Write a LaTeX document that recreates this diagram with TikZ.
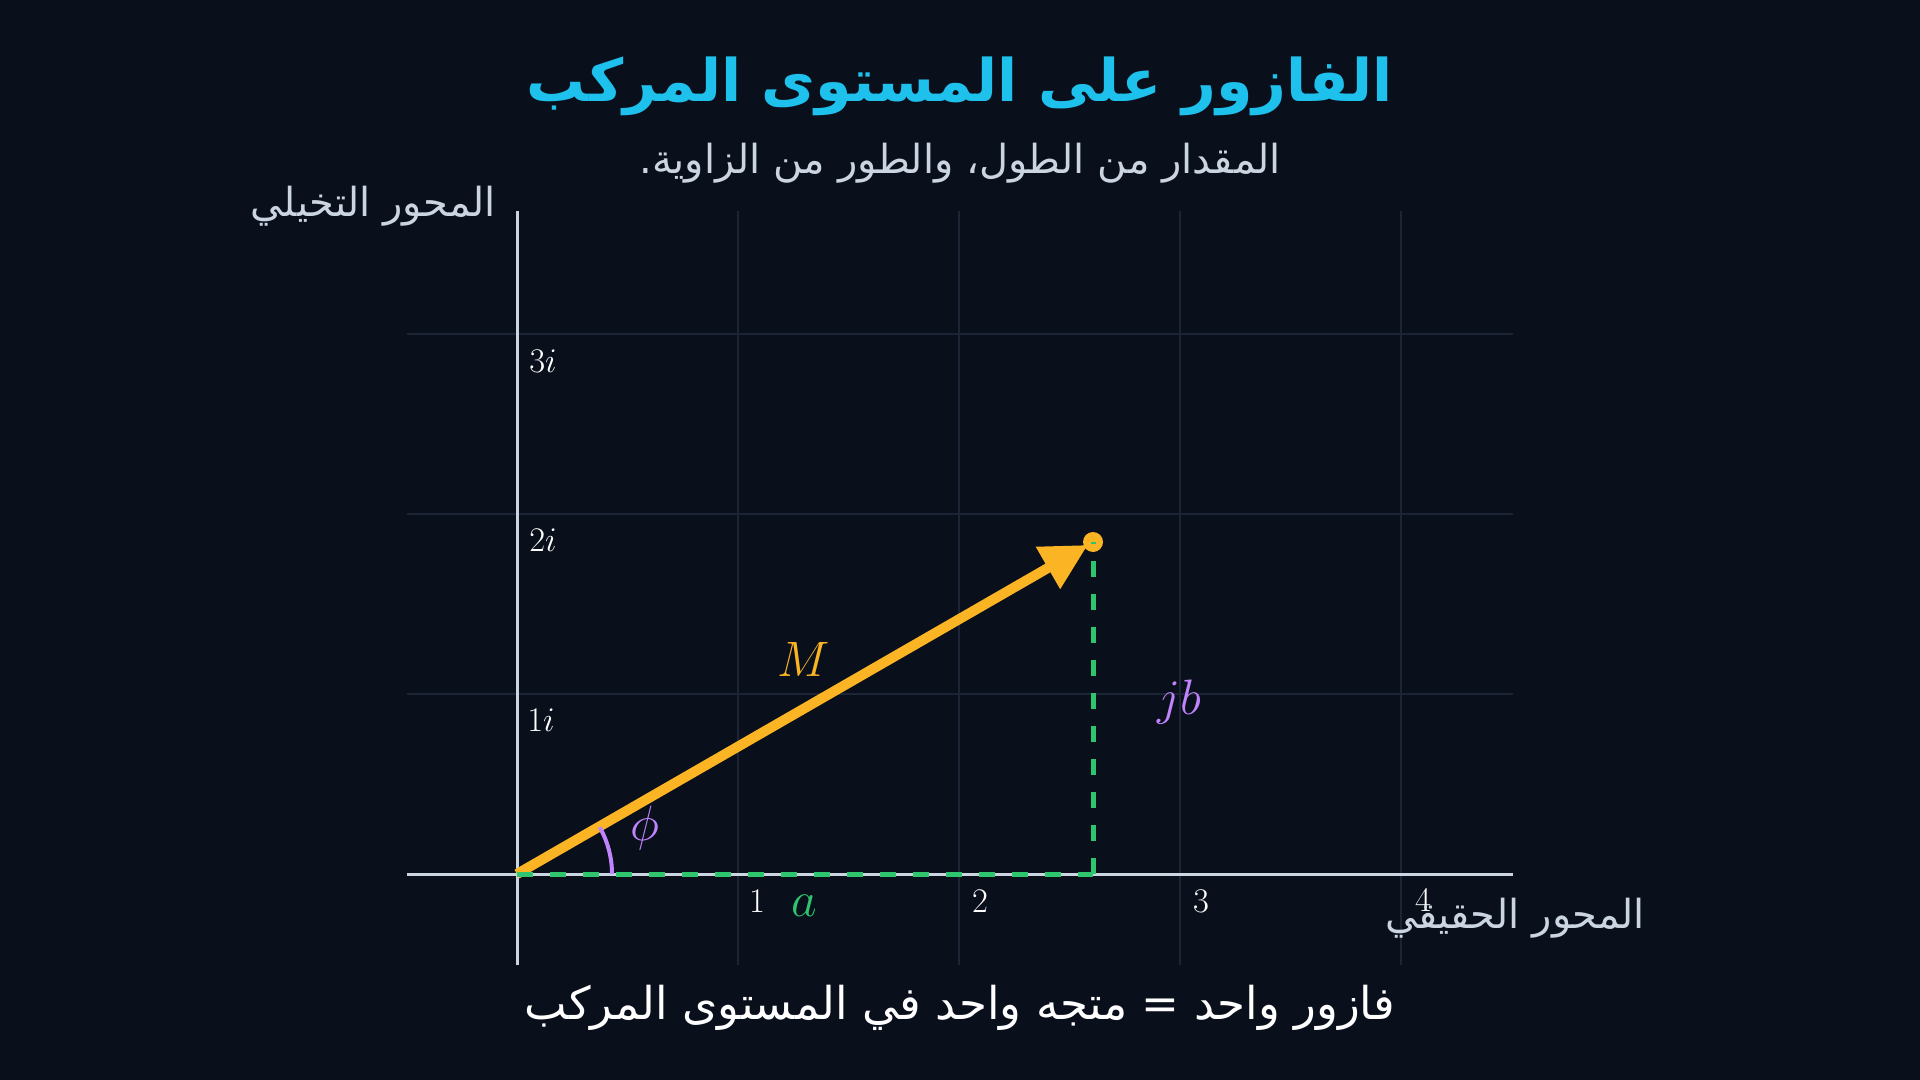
\documentclass[tikz,border=0pt]{standalone}
\usepackage{fontspec}
\usepackage{graphicx}
\usetikzlibrary{arrows.meta,calc}
\newfontfamily\arabicfont[Script=Arabic]{DejaVu Sans}
\TeXXeTstate=1
\definecolor{bg}{HTML}{0A0F1C}
\definecolor{titlec}{HTML}{1EC0EC}
\definecolor{softc}{HTML}{CBD5E1}
\definecolor{gridc}{HTML}{1C2536}
\definecolor{orangec}{HTML}{FBB424}
\definecolor{greenc}{HTML}{2FC46E}
\definecolor{purplec}{HTML}{C084FC}
\tikzset{
  gridline/.style={draw=gridc, line width=0.8pt},
  axisline/.style={draw=softc, line width=1.5pt},
  ticklab/.style={text=white, font=\fontsize{17}{17}\selectfont, inner sep=0pt},
  mathlab/.style={font=\fontsize{30}{30}\selectfont, inner sep=0pt},
  artext/.style={inner sep=0pt, text=softc},
  legdash/.style={draw=greenc, line width=2.5pt, dash pattern=on 8pt off 8.5pt},
}
\begin{document}
\begin{tikzpicture}[x=0.5pt,y=-0.5pt]
\fill[bg] (0,0) rectangle (1920,1080);
\useasboundingbox (0,0) rectangle (1920,1080);
% grid
\foreach \gx in {738,959,1180,1401} \draw[gridline] (\gx,211) -- (\gx,965);
\foreach \gy in {694,514,334} \draw[gridline] (407,\gy) -- (1513,\gy);
% axes
\coordinate (xl) at (407,874);
\coordinate (xr) at (1513,874);
\coordinate (yb) at (517,965);
\coordinate (yt) at (517,211);
\draw[axisline] (xl) -- (xr);
\draw[axisline] (yb) -- (yt);
% tick labels
\node[ticklab] (t1) at (757,901) {$1$};
\node[ticklab] (t2) at (980,901) {$2$};
\node[ticklab] (t3) at (1201,901) {$3$};
\node[ticklab] (t4) at (1423,900) {$4$};
\node[ticklab] (i3) at (543,361) {$3i$};
\node[ticklab] (i2) at (543,540) {$2i$};
\node[ticklab] (i1) at (541,720) {$1i$};
% key points
\coordinate (O) at (517,874);
\coordinate (P) at (1093,542);
\coordinate (F) at (1093,874);
% phasor
\draw[draw=orangec, line width=5pt, -{Triangle[length=23pt,width=23pt]}, shorten >=3pt] (O) -- (P);
\fill[orangec] (P) circle[radius=5pt];
% angle arc
\draw[draw=purplec, line width=2pt] ($(O)+(95,0)$) arc[start angle=0, end angle=-29.5, radius=95];
% green legs
\draw[legdash] (O) -- (F);
\draw[legdash] (F) -- (P);
% labels
\node[mathlab, text=orangec] (Mlab) at (804,659) {$M$};
\node[mathlab, text=purplec] (philab) at (645,828) {$\phi$};
\node[mathlab, text=purplec] (jblab) at (1179,702) {$jb$};
\node[mathlab, text=greenc] (alab) at (804,906) {$a$};
% arabic texts
\node[inner sep=0pt, text=titlec] (title) at (960,86) {\resizebox{433pt}{!}{\arabicfont\bfseries\fontsize{36}{36}\selectfont\beginR الفازور على المستوى المركب\endR}};
\node[artext] (sub) at (960,163) {\arabicfont\fontsize{20}{20}\selectfont\beginR المقدار من الطول، والطور من الزاوية.\endR};
\node[artext] (ylab) at (373,206) {\arabicfont\fontsize{20}{20}\selectfont\beginR المحور التخيلي\endR};
\node[artext] (xlab) at (1515,918) {\arabicfont\fontsize{20}{20}\selectfont\beginR المحور الحقيقي\endR};
\node[inner sep=0pt, text=white] (bottom) at (960,1008) {\arabicfont\fontsize{22.6}{22.6}\selectfont\beginR فازور واحد = متجه واحد في المستوى المركب\endR};
\end{tikzpicture}
\end{document}
